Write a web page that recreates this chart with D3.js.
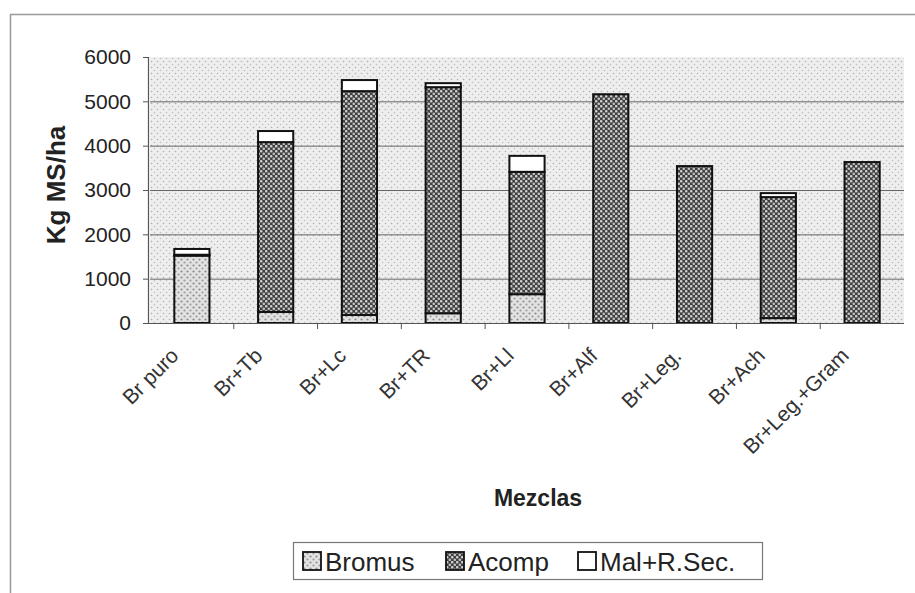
<!DOCTYPE html>
<html>
<head>
<meta charset="utf-8">
<script src="https://cdn.jsdelivr.net/npm/d3@7"></script>
<style>
  html, body { margin: 0; padding: 0; background: #fff; }
  svg { display: block; font-family: "Liberation Sans", Arial, sans-serif; }
</style>
</head>
<body>
<svg id="chart" width="915" height="593"></svg>
<script>
// Forage yield per mixture (kg dry matter / ha), split by component
const categories = ["Br puro", "Br+Tb", "Br+Lc", "Br+TR", "Br+Ll", "Br+Alf", "Br+Leg.", "Br+Ach", "Br+Leg.+Gram"];
const bromus   = [1520,  250,  180,  220,  650,    0,    0,  110,    0];
const acomp    = [  20, 3830, 5050, 5100, 2760, 5160, 3540, 2730, 3630];
const malRSec  = [ 130,  250,  250,   90,  360,    0,    0,   90,    0];
const seriesNames = ["Bromus", "Acomp", "Mal+R.Sec."];
const yTicks = [0, 1000, 2000, 3000, 4000, 5000, 6000];

const rows = categories.map((c, i) => ({ cat: c, Bromus: bromus[i], Acomp: acomp[i], "Mal+R.Sec.": malRSec[i] }));

const svg = d3.select("#chart");
const W = 915, H = 593;
const plot = { left: 150, right: 904, top: 57, bottom: 323 };

// Fill patterns
const defs = svg.append("defs");
const pBack = defs.append("pattern").attr("id", "pat-back").attr("patternUnits", "userSpaceOnUse")
  .attr("width", 6).attr("height", 6);
pBack.append("rect").attr("width", 6).attr("height", 6).attr("fill", "#eeeeee");
pBack.append("circle").attr("cx", 1.5).attr("cy", 1.5).attr("r", 0.8).attr("fill", "#b0b0b0");
pBack.append("circle").attr("cx", 4.5).attr("cy", 4.5).attr("r", 0.8).attr("fill", "#c0c0c0");

const pBromus = defs.append("pattern").attr("id", "pat-bromus").attr("patternUnits", "userSpaceOnUse")
  .attr("width", 6).attr("height", 6);
pBromus.append("rect").attr("width", 6).attr("height", 6).attr("fill", "#e2e2e2");
pBromus.append("circle").attr("cx", 1.5).attr("cy", 1.5).attr("r", 1.1).attr("fill", "#8c8c8c");
pBromus.append("circle").attr("cx", 4.5).attr("cy", 4.5).attr("r", 1.1).attr("fill", "#9c9c9c");

const pAcomp = defs.append("pattern").attr("id", "pat-acomp").attr("patternUnits", "userSpaceOnUse")
  .attr("width", 5).attr("height", 5);
pAcomp.append("rect").attr("width", 5).attr("height", 5).attr("fill", "#3f3f3f");
pAcomp.append("circle").attr("cx", 1.25).attr("cy", 1.25).attr("r", 1.3).attr("fill", "#cfcfcf");
pAcomp.append("circle").attr("cx", 3.75).attr("cy", 3.75).attr("r", 1.3).attr("fill", "#c2c2c2");

const fills = { "Bromus": "url(#pat-bromus)", "Acomp": "url(#pat-acomp)", "Mal+R.Sec.": "#ffffff" };

// Chart frame
svg.append("rect").attr("x", 10.5).attr("y", 14.5).attr("width", W).attr("height", H)
  .attr("fill", "#fff").attr("stroke", "#999").attr("stroke-width", 1.5);

// Plot area
svg.append("rect").attr("x", plot.left).attr("y", plot.top)
  .attr("width", plot.right - plot.left).attr("height", plot.bottom - plot.top)
  .attr("fill", "url(#pat-back)");

const x = d3.scaleBand().domain(categories).range([plot.left, plot.right])
  .paddingInner(0.58).paddingOuter(0.29);
const y = d3.scaleLinear().domain([0, 6000]).range([plot.bottom, plot.top]);

// Gridlines
svg.append("g").selectAll("line").data(yTicks.filter(v => v > 0 && v < 6000)).join("line")
  .attr("x1", plot.left).attr("x2", plot.right)
  .attr("y1", d => y(d) + 0.5).attr("y2", d => y(d) + 0.5)
  .attr("stroke", "#666").attr("stroke-width", 1);

// Stacked bars
const stack = d3.stack().keys(seriesNames)(rows);
svg.append("g").selectAll("g").data(stack).join("g")
  .attr("fill", d => fills[d.key])
  .selectAll("rect").data(d => d.filter(s => s[1] - s[0] > 0)).join("rect")
  .attr("x", d => x(d.data.cat))
  .attr("width", x.bandwidth())
  .attr("y", d => y(d[1]))
  .attr("height", d => y(d[0]) - y(d[1]))
  .attr("stroke", "#111").attr("stroke-width", 2);

// Y axis
const yAxis = svg.append("g").attr("transform", `translate(${plot.left - 2},0)`)
  .call(d3.axisLeft(y).tickValues(yTicks).tickSize(5).tickPadding(12).tickFormat(d3.format("d")));
yAxis.select(".domain").attr("stroke", "#555").attr("stroke-width", 1.2);
yAxis.selectAll(".tick line").attr("stroke", "#555");
yAxis.selectAll(".tick text").attr("font-size", 21).attr("fill", "#222")
  .attr("font-family", "'Liberation Sans', Arial, sans-serif");

// X axis line and category boundary ticks
svg.append("line").attr("x1", plot.left - 2).attr("x2", plot.right)
  .attr("y1", plot.bottom + 0.5).attr("y2", plot.bottom + 0.5)
  .attr("stroke", "#555").attr("stroke-width", 1.2);
svg.append("g").selectAll("line").data(categories.slice(1)).join("line")
  .attr("x1", d => x(d) + x.bandwidth() / 2 - x.step() / 2)
  .attr("x2", d => x(d) + x.bandwidth() / 2 - x.step() / 2)
  .attr("y1", plot.bottom).attr("y2", plot.bottom + 6)
  .attr("stroke", "#555");

// Category labels
svg.append("g").selectAll("text").data(categories).join("text")
  .attr("transform", d => `translate(${x(d) + x.bandwidth() / 2 - 12},${plot.bottom + 34}) rotate(-45)`)
  .attr("text-anchor", "end")
  .attr("font-size", 21).attr("fill", "#333")
  .text(d => d);

// Axis titles
svg.append("text").attr("transform", `translate(65,185) rotate(-90)`)
  .attr("text-anchor", "middle").attr("font-size", 26).attr("font-weight", "bold").attr("fill", "#222")
  .text("Kg MS/ha");
svg.append("text").attr("x", 538).attr("y", 506)
  .attr("text-anchor", "middle").attr("font-size", 23).attr("font-weight", "bold").attr("fill", "#222")
  .text("Mezclas");

// Legend
const legend = svg.append("g");
legend.append("rect").attr("x", 293.5).attr("y", 542.5).attr("width", 469).attr("height", 37)
  .attr("fill", "#fff").attr("stroke", "#777").attr("stroke-width", 1.2);
const legendX = [303, 446, 578];
const items = legend.selectAll("g.item").data(seriesNames).join("g").attr("class", "item")
  .attr("transform", (d, i) => `translate(${legendX[i]},561)`);
items.append("rect").attr("x", 0).attr("y", -9).attr("width", 18).attr("height", 18)
  .attr("fill", d => fills[d]).attr("stroke", "#111").attr("stroke-width", 1.8);
items.append("text").attr("x", 22).attr("y", 9.5)
  .attr("font-size", 26).attr("fill", "#222").text(d => d);
</script>
</body>
</html>
